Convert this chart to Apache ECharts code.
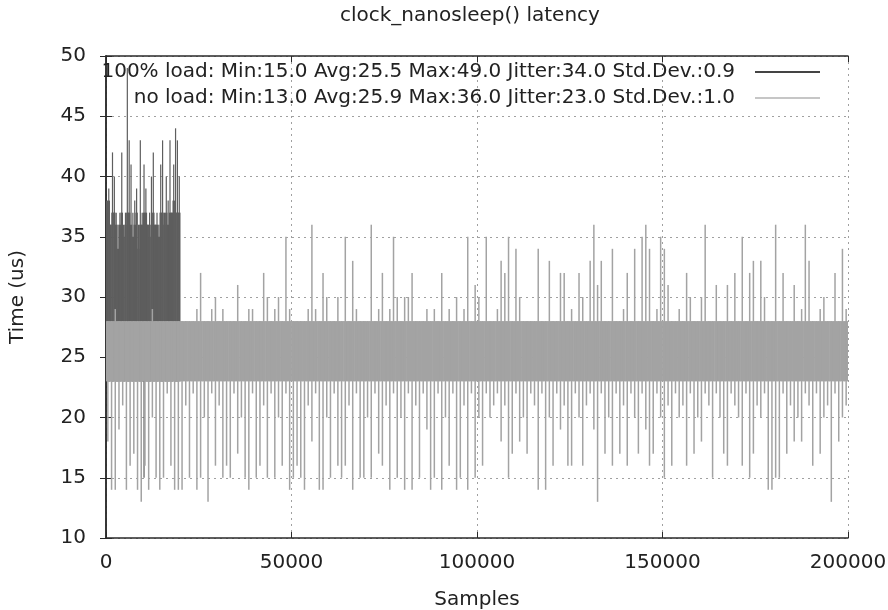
<!DOCTYPE html>
<html>
<head>
<meta charset="utf-8">
<title>clock_nanosleep() latency</title>
<script src="https://cdn.jsdelivr.net/npm/echarts@6/dist/echarts.min.js"></script>
<style>
  html, body { margin: 0; padding: 0; background: #fff; }
  #main { width: 888px; height: 610px; }
</style>
</head>
<body>
<div id="main"></div>
<script>
// samples are binned: each bin keeps the lowest / highest latency (us),
// plus the range where the samples are so dense that they draw a solid band
var noLoadBin = 1000;
var fullLoadBin = 500;

var noLoadHigh = [
  28, 28, 29, 28, 28, 28, 28, 28, 28, 28, 28, 28, 29, 28, 28, 28, 28, 28, 28, 28,
  28, 28, 28, 28, 29, 32, 28, 28, 29, 30, 28, 29, 28, 28, 28, 31, 28, 28, 29, 29,
  28, 28, 32, 30, 28, 29, 30, 28, 35, 29, 28, 28, 28, 28, 29, 36, 29, 28, 32, 30,
  28, 28, 30, 28, 35, 28, 33, 29, 28, 28, 28, 36, 28, 29, 32, 28, 29, 35, 30, 28,
  30, 30, 32, 28, 28, 28, 29, 28, 29, 28, 32, 28, 29, 28, 30, 28, 29, 35, 28, 31,
  30, 28, 35, 28, 28, 29, 33, 32, 35, 28, 34, 30, 28, 28, 28, 28, 34, 28, 28, 33,
  28, 28, 32, 32, 28, 29, 28, 32, 30, 28, 33, 36, 31, 33, 28, 28, 34, 28, 28, 29,
  32, 28, 34, 28, 35, 36, 34, 28, 29, 35, 34, 31, 28, 28, 29, 28, 32, 30, 28, 28,
  30, 36, 28, 28, 31, 28, 28, 31, 28, 32, 28, 35, 28, 32, 33, 28, 33, 30, 28, 28,
  36, 28, 32, 28, 28, 31, 28, 29, 36, 33, 28, 28, 29, 30, 28, 28, 32, 28, 34, 29
];
var noLoadLow = [
  18, 14, 14, 19, 21, 14, 16, 17, 14, 13, 16, 14, 20, 15, 14, 15, 22, 16, 14, 14,
  14, 21, 15, 22, 14, 15, 20, 13, 22, 16, 21, 15, 16, 15, 22, 17, 20, 15, 14, 22,
  15, 16, 21, 15, 22, 15, 20, 16, 22, 14, 15, 16, 15, 14, 21, 18, 22, 14, 14, 20,
  15, 22, 16, 15, 16, 21, 14, 22, 15, 15, 20, 15, 22, 17, 16, 21, 14, 22, 15, 20,
  14, 22, 14, 21, 15, 22, 19, 14, 15, 22, 14, 20, 16, 22, 14, 15, 21, 14, 22, 15,
  20, 16, 22, 20, 21, 22, 18, 21, 15, 17, 22, 18, 20, 17, 22, 21, 14, 22, 14, 20,
  16, 22, 19, 21, 16, 16, 22, 20, 16, 21, 22, 19, 13, 22, 17, 20, 16, 22, 17, 21,
  16, 22, 20, 17, 22, 19, 16, 17, 22, 20, 15, 21, 16, 22, 20, 21, 16, 22, 17, 20,
  18, 22, 21, 15, 22, 20, 17, 16, 22, 21, 20, 16, 22, 15, 17, 21, 20, 22, 14, 14,
  15, 15, 22, 17, 21, 18, 20, 18, 22, 21, 16, 22, 17, 20, 21, 13, 22, 18, 20, 21
];
var noLoadBand = [23, 28];

var fullLoadHigh = [
  37, 39, 36, 42, 40, 37, 36, 37, 42, 36, 37, 49, 43, 41, 37, 38, 39, 36, 43, 37,
  41, 39, 36, 37, 40, 42, 36, 37, 36, 41, 43, 37, 40, 38, 43, 37, 41, 44, 43, 40
];
var fullLoadLow = [
  24, 23, 25, 23, 24, 23, 23, 24, 25, 23, 24, 23, 23, 24, 23, 25, 23, 24, 23, 23,
  15, 24, 23, 23, 24, 23, 25, 23, 24, 23, 23, 24, 23, 23, 25, 23, 24, 23, 23, 24
];
var fullLoadBandTop = [
  38, 38, 36, 37, 37, 36, 34, 36, 37, 35, 36, 37, 37, 36, 35, 36, 37, 34, 36, 36,
  37, 37, 36, 35, 36, 37, 36, 36, 35, 37, 37, 36, 37, 36, 37, 37, 38, 37, 37, 37
];
var fullLoadBandBottom = 23;

var fullLoadName = '100% load: Min:15.0 Avg:25.5 Max:49.0 Jitter:34.0 Std.Dev.:0.9';
var noLoadName = 'no load: Min:13.0 Avg:25.9 Max:36.0 Jitter:23.0 Std.Dev.:1.0';

function toSpans(low, high, bandLow, bandHigh, bin) {
  var out = [];
  for (var i = 0; i < low.length; i++) {
    var bl = Array.isArray(bandLow) ? bandLow[i] : bandLow;
    var bh = Array.isArray(bandHigh) ? bandHigh[i] : bandHigh;
    out.push([i * bin + bin / 2, low[i], high[i], bl, bh]);
  }
  return out;
}

// solid block for the dense part of a bin, thin stroke from min to max
function spanRenderer(bin, width) {
  return function (params, api) {
    var x = api.value(0);
    var color = api.visual('color');
    var a = api.coord([x, api.value(1)]);
    var b = api.coord([x, api.value(2)]);
    var c = api.coord([x, api.value(3)]);
    var d = api.coord([x, api.value(4)]);
    var w = api.size([bin, 0])[0];
    return {
      type: 'group',
      children: [{
        type: 'rect',
        shape: { x: c[0] - w / 2 - 0.3, y: d[1], width: w + 0.6, height: c[1] - d[1] },
        style: { fill: color }
      }, {
        type: 'line',
        shape: { x1: a[0], y1: a[1], x2: b[0], y2: b[1] },
        style: { stroke: color, lineWidth: width }
      }]
    };
  };
}

var font = 'DejaVu Sans';
var axisColor = '#2a2a2a';
var plain = function (v) { return String(v); };

var myChart = echarts.init(document.getElementById('main'));

var option = {
  backgroundColor: '#fff',
  animation: false,
  title: {
    text: 'clock_nanosleep() latency',
    left: 340,
    top: 6,
    padding: 0,
    textStyle: { fontFamily: font, fontSize: 20, fontWeight: 'normal', color: '#222' }
  },
  legend: {
    orient: 'vertical',
    align: 'right',
    right: 68,
    top: 62,
    padding: 0,
    itemGap: 6,
    itemWidth: 80,
    itemHeight: 2,
    icon: 'path://M0,0M15,0L80,0L80,2L15,2Z',
    textStyle: { fontFamily: font, fontSize: 20, color: '#222' },
    data: [
      { name: fullLoadName, itemStyle: { color: '#444' } },
      { name: noLoadName, itemStyle: { color: '#c6c6c6' } }
    ]
  },
  grid: { left: 106, right: 40, top: 56, bottom: 72, outerBoundsMode: 'none' },
  xAxis: [{
    type: 'value',
    min: 0,
    max: 200000,
    interval: 50000,
    name: 'Samples',
    nameLocation: 'middle',
    nameGap: 52,
    nameTextStyle: { fontFamily: font, fontSize: 20, color: '#222' },
    axisLine: { lineStyle: { color: axisColor, width: 1.5 } },
    axisTick: { inside: true, length: 6, lineStyle: { color: axisColor } },
    axisLabel: { fontFamily: font, fontSize: 20, color: '#222', margin: 15, formatter: plain },
    splitLine: { show: true, lineStyle: { color: '#a0a0a0', type: [2, 4], width: 1 } }
  }, {
    type: 'value',
    position: 'top',
    min: 0,
    max: 200000,
    interval: 50000,
    axisLine: { lineStyle: { color: axisColor, width: 1.5 } },
    axisTick: { inside: true, length: 6, lineStyle: { color: axisColor } },
    axisLabel: { show: false },
    splitLine: { show: false }
  }],
  yAxis: [{
    type: 'value',
    min: 10,
    max: 50,
    interval: 5,
    name: 'Time (us)',
    nameLocation: 'middle',
    nameGap: 78,
    nameTextStyle: { fontFamily: font, fontSize: 20, color: '#222' },
    axisLine: { show: true, lineStyle: { color: axisColor, width: 1.5 } },
    axisTick: { show: true, inside: true, length: 6, lineStyle: { color: axisColor } },
    axisLabel: { fontFamily: font, fontSize: 20, color: '#222', margin: 20, formatter: plain },
    splitLine: { show: true, lineStyle: { color: '#a0a0a0', type: [2, 4], width: 1 } }
  }, {
    type: 'value',
    position: 'right',
    min: 10,
    max: 50,
    interval: 5,
    axisLine: { show: true, lineStyle: { color: axisColor, width: 1.5 } },
    axisTick: { show: true, inside: true, length: 6, lineStyle: { color: axisColor } },
    axisLabel: { show: false },
    splitLine: { show: false }
  }],
  series: [{
    name: fullLoadName,
    type: 'custom',
    z: 2,
    clip: true,
    renderItem: spanRenderer(fullLoadBin, 1.2),
    itemStyle: { color: '#5e5e5e' },
    encode: { x: 0, y: [1, 2] },
    data: toSpans(fullLoadLow, fullLoadHigh, fullLoadBandBottom, fullLoadBandTop, fullLoadBin)
  }, {
    name: noLoadName,
    type: 'custom',
    z: 3,
    clip: true,
    renderItem: spanRenderer(noLoadBin, 1.5),
    itemStyle: { color: '#a3a3a3' },
    encode: { x: 0, y: [1, 2] },
    data: toSpans(noLoadLow, noLoadHigh, noLoadBand[0], noLoadBand[1], noLoadBin)
  }]
};

myChart.setOption(option);
</script>
</body>
</html>
